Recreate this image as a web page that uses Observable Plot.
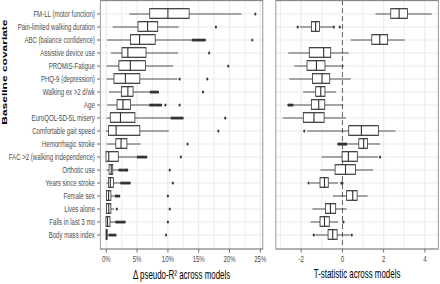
<!DOCTYPE html>
<html><head><meta charset="utf-8">
<script src="https://cdn.jsdelivr.net/npm/d3@7"></script>
<script src="https://cdn.jsdelivr.net/npm/@observablehq/plot@0.6"></script>
<style>
html,body{margin:0;padding:0;background:#fff;overflow:hidden;width:440px;height:284px}
#wrap{position:absolute;left:0;top:0;width:667px;height:284px;transform:scaleX(0.66);transform-origin:0 0;display:flex;flex-direction:row}
#wrap svg{display:block;flex:none}
</style></head><body><div id="wrap"></div><script>
const covariates = ["FM-LL (motor function)","Pain-limited walking duration","ABC (balance confidence)","Assistive device use","PROMIS-Fatigue","PHQ-9 (depression)","Walking ex >2 d/wk","Age","EuroQOL-5D-5L misery","Comfortable gait speed","Hemorrhagic stroke","FAC >2 (walking independence)","Orthotic use","Years since stroke","Female sex","Lives alone","Falls in last 3 mo","Body mass index"];

// Δ pseudo-R² (%) box statistics
const r2Lo  = [3.8, 1.1, 0.2, 0.8, 0.1, 0.1, 0.5, 0.2, 0.1, 0.0, 0.1, 0.0, 0.1, 0.1, 0.0, 0.0, 0.0, 0.0];
const r2Q1  = [7.1, 5.2, 4.0, 2.6, 2.1, 1.3, 2.5, 1.8, 0.7, 0.4, 1.6, 0.0, 0.5, 0.4, 0.1, 0.1, 0.0, 0.0];
const r2Med = [10.0, 6.7, 5.4, 3.5, 3.9, 3.1, 3.5, 2.7, 2.3, 1.6, 2.4, 0.4, 0.8, 0.65, 0.37, 0.4, 0.2, 0.05];
const r2Q3  = [13.5, 8.4, 8.0, 6.5, 6.4, 5.5, 4.4, 4.0, 4.7, 5.5, 3.4, 2.0, 1.1, 1.2, 0.8, 0.8, 0.65, 0.2];
const r2Hi  = [22.0, 11.8, 13.9, 11.7, 10.9, 11.6, 7.1, 7.0, 10.5, 10.2, 5.6, 5.0, 2.0, 2.3, 1.3, 1.3, 1.5, 0.35];
const r2Out = [
  [24.2],
  [17.8],
  [14.0, 14.2, 14.4, 14.6, 14.8, 15.0, 15.2, 15.4, 15.6, 15.8, 16.0, 23.7],
  [16.7],
  [19.8],
  [11.9, 16.4],
  [7.2, 7.4, 7.6, 7.8, 8.0, 8.2, 8.4, 15.7],
  [7.1, 7.3, 7.5, 7.7, 7.9, 8.1, 8.3, 8.5, 8.7, 8.9, 9.6, 11.9],
  [10.6, 10.8, 11.0, 11.2, 11.4, 11.6, 11.8, 12.0, 12.2, 12.4, 19.3],
  [18.2],
  [13.2],
  [5.1, 5.3, 5.5, 5.7, 5.9, 6.1, 6.3, 6.5, 12.1],
  [2.1, 2.3, 2.5, 2.7, 2.9, 3.1, 3.3, 3.4, 10.3],
  [2.4, 2.6, 2.8, 3.0, 3.2, 3.4, 3.6, 3.8, 10.8],
  [1.5, 1.7, 1.9, 2.1, 10.0],
  [1.7, 10.3],
  [1.6, 1.8, 2.0, 2.2, 2.4, 2.6, 2.8, 3.0, 10.0],
  [0.5, 0.7, 0.9, 1.1, 1.3, 1.5, 9.7]
];
const r2Ticks = [0, 5, 10, 15, 20, 25];
const r2Minor = [2.5, 7.5, 12.5, 17.5, 22.5];

// T-statistic box statistics
const tLo  = [1.62, -2.05, 0.42, -2.61, -2.32, -2.56, -1.89, -2.39, -2.88, -1.70, 0.20, -0.99, -1.05, -1.55, -0.44, -1.44, -1.52, -1.30];
const tQ1  = [2.36, -1.49, 1.44, -1.59, -1.70, -1.43, -1.28, -1.49, -1.88, 0.32, 0.81, 0.00, -0.34, -1.07, 0.22, -0.81, -1.07, -0.68];
const tMed = [2.75, -1.30, 1.81, -0.91, -1.26, -0.99, -1.05, -1.15, -1.38, 0.92, 1.03, 0.29, 0.15, -0.87, 0.50, -0.58, -0.87, -0.47];
const tQ3  = [3.17, -1.10, 2.21, -0.55, -0.83, -0.60, -0.83, -0.84, -0.87, 1.76, 1.23, 0.74, 0.65, -0.67, 0.73, -0.31, -0.62, -0.24];
const tHi  = [4.35, -0.45, 3.04, 0.32, 0.10, 0.42, -0.29, 0.05, 0.19, 2.59, 1.84, 1.75, 1.50, -0.20, 1.24, 0.22, -0.19, 0.38];
const tOut = [
  [], [-2.17, -0.42, -0.13], [], [], [], [], [],
  [-2.62, -2.57, -2.52, -2.47, -2.42], [], [-1.85],
  [-0.20, -0.15, -0.10, -0.05, 0.00, 0.05, 0.10, 0.15, 0.18],
  [1.83], [], [-1.64, -0.05, 0.00], [], [], [0.05], [-1.39, 0.45]
];
const tTicks = [-2, 0, 2, 4];
const tMinor = [-3, -1, 1, 3];

const boxRows = (lo, q1, med, q3, hi) => covariates.map((c, i) => ({c, lo: lo[i], q1: q1[i], med: med[i], q3: q3[i], hi: hi[i]}));
const outRows = (arr) => covariates.flatMap((c, i) => arr[i].map(v => ({c, v})));

const FONT = '"Liberation Sans", Arial, sans-serif';
const GRID = "#ebebeb";
const INK = "#333333";
const INSET = 1.7;

function boxMarks(rows, outs) {
  return [
    Plot.ruleY(rows, {y: "c", x1: "lo", x2: "hi", stroke: INK, strokeWidth: 1}),
    Plot.barX(rows, {y: "c", x1: "q1", x2: "q3", fill: "white", stroke: INK, strokeWidth: 1.2, insetTop: INSET, insetBottom: INSET}),
    Plot.tickX(rows, {y: "c", x: "med", stroke: INK, strokeWidth: 1.7, insetTop: INSET, insetBottom: INSET}),
    Plot.dot(outs, {y: "c", x: "v", r: 1.6, fill: INK, stroke: "none"})
  ];
}

const H = 284, MB = 35.5, MT = 0;

const left = Plot.plot({
  width: 408, height: H,
  marginLeft: 151.5, marginRight: 10.3, marginTop: MT, marginBottom: MB,
  style: {fontFamily: FONT, fontSize: "9.2px", color: "#4d4d4d", background: "white"},
  x: {domain: [-0.97, 25.41], ticks: r2Ticks, tickFormat: d => d + "%", tickSize: 4, tickPadding: 2.5, label: null},
  y: {domain: covariates, paddingInner: 0, paddingOuter: 0.1, tickSize: 4.5, tickPadding: 3.8, label: null},
  marks: [
    Plot.ruleX(r2Minor, {stroke: GRID, strokeWidth: 1}),
    Plot.ruleX(r2Ticks, {stroke: GRID, strokeWidth: 1.8}),
    Plot.ruleY(covariates, {y: d => d, stroke: GRID, strokeWidth: 1.1}),
    ...boxMarks(boxRows(r2Lo, r2Q1, r2Med, r2Q3, r2Hi), outRows(r2Out)),
    Plot.frame({stroke: "#888", strokeWidth: 1.3}),
    Plot.text(["Baseline covariate"], {frameAnchor: "left", dx: -144.7, rotate: -90, fontWeight: "bold", fontSize: 12, fill: "black"}),
    Plot.text(["Δ pseudo-R² across models"], {frameAnchor: "bottom", dy: 29.5, fontSize: 12, fill: "black"})
  ]
});

const right = Plot.plot({
  width: 258.7, height: H,
  marginLeft: 9.4, marginRight: 3.1, marginTop: MT, marginBottom: MB,
  style: {fontFamily: FONT, fontSize: "9.2px", color: "#4d4d4d", background: "white"},
  x: {domain: [-3.23, 4.65], ticks: tTicks, tickFormat: d => String(d), tickSize: 4, tickPadding: 2.5, label: null},
  y: {domain: covariates, paddingInner: 0, paddingOuter: 0.1, axis: null},
  marks: [
    Plot.ruleX(tMinor, {stroke: GRID, strokeWidth: 1}),
    Plot.ruleX(tTicks, {stroke: GRID, strokeWidth: 1.8}),
    Plot.ruleY(covariates, {y: d => d, stroke: GRID, strokeWidth: 1.1}),
    Plot.ruleX([0], {stroke: "#555", strokeWidth: 1.4, strokeDasharray: "5,3"}),
    ...boxMarks(boxRows(tLo, tQ1, tMed, tQ3, tHi), outRows(tOut)),
    Plot.frame({stroke: "#888", strokeWidth: 1.3}),
    Plot.text(["T-statistic across models"], {frameAnchor: "bottom", dy: 29.5, fontSize: 12, fill: "black"})
  ]
});

const wrap = document.getElementById("wrap");
wrap.append(left, right);
</script></body></html>
